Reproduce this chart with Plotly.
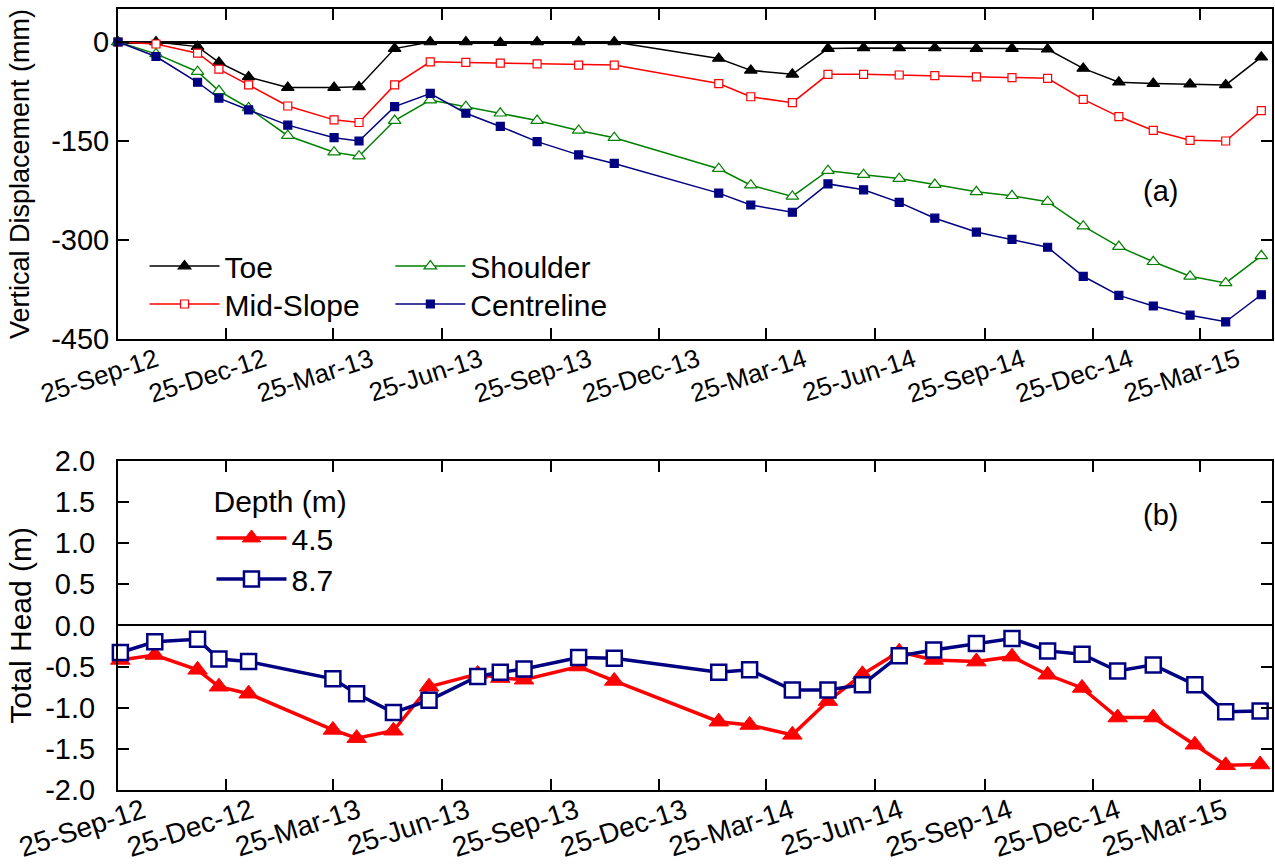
import plotly.graph_objects as go

# ---- settlement survey (top panel) ----
survey_dates = ["2012-09-25", "2012-10-27", "2012-12-01", "2012-12-19", "2013-01-13",
                "2013-02-15", "2013-03-26", "2013-04-16", "2013-05-16", "2013-06-15",
                "2013-07-15", "2013-08-13", "2013-09-13", "2013-10-18", "2013-11-17",
                "2014-02-13", "2014-03-12", "2014-04-16", "2014-05-16", "2014-06-15",
                "2014-07-15", "2014-08-14", "2014-09-18", "2014-10-18", "2014-11-17",
                "2014-12-17", "2015-01-16", "2015-02-14", "2015-03-17", "2015-04-16",
                "2015-05-16"]
toe = [0, 0, -7, -31, -53, -69, -69, -68, -10, 0, 0, -1, 0, 0, 0, -25, -43, -49,
       -10, -9, -9, -9, -10, -10, -11, -40, -61, -63, -64, -65, -23]
mid_slope = [0, -3, -17, -41, -65, -97, -118, -122, -65, -30, -31, -32, -33, -35, -35,
             -63, -83, -92, -49, -49, -50, -51, -53, -54, -55, -87, -113, -134, -149,
             -150, -104]
shoulder = [0, -18, -45, -74, -100, -142, -167, -173, -119, -88, -98, -108, -119,
            -134, -145, -192, -217, -234, -195, -201, -207, -216, -227, -233, -242,
            -279, -310, -333, -355, -365, -324]
centreline = [0, -22, -61, -85, -103, -126, -145, -150, -98, -78, -108, -128, -151,
              -171, -184, -229, -247, -258, -215, -224, -243, -267, -288, -299, -311,
              -355, -384, -400, -414, -424, -383]

# ---- piezometer readings (bottom panel) ----
piezo_dates = ["2012-09-27", "2012-10-26", "2012-12-01", "2012-12-19", "2013-01-13",
               "2013-03-25", "2013-04-14", "2013-05-15", "2013-06-14", "2013-07-25",
               "2013-08-13", "2013-09-02", "2013-10-18", "2013-11-17", "2014-02-13",
               "2014-03-11", "2014-04-16", "2014-05-16", "2014-06-14", "2014-07-15",
               "2014-08-13", "2014-09-18", "2014-10-18", "2014-11-17", "2014-12-16",
               "2015-01-15", "2015-02-14", "2015-03-21", "2015-04-16", "2015-05-15"]
head_4_5 = [-0.42, -0.36, -0.54, -0.745, -0.83, -1.27, -1.37, -1.28, -0.745, -0.59,
            -0.64, -0.66, -0.50, -0.675, -1.17, -1.21, -1.33, -0.92, -0.595, -0.32,
            -0.42, -0.44, -0.38, -0.60, -0.76, -1.12, -1.12, -1.45, -1.70, -1.69]
head_8_7 = [-0.33, -0.20, -0.17, -0.41, -0.44, -0.65, -0.83, -1.06, -0.91, -0.62,
            -0.57, -0.53, -0.39, -0.40, -0.57, -0.54, -0.785, -0.785, -0.72, -0.37,
            -0.30, -0.22, -0.16, -0.31, -0.35, -0.555, -0.48, -0.72, -1.05, -1.04]

# ---- axis ticks ----
tick_dates = ["2012-09-25", "2012-12-25", "2013-03-25", "2013-06-25", "2013-09-25",
              "2013-12-25", "2014-03-25", "2014-06-25", "2014-09-25", "2014-12-25",
              "2015-03-25"]
tick_text = ["25-Sep-12", "25-Dec-12", "25-Mar-13", "25-Jun-13", "25-Sep-13",
             "25-Dec-13", "25-Mar-14", "25-Jun-14", "25-Sep-14", "25-Dec-14",
             "25-Mar-15"]
disp_ticks = [0, -150, -300, -450]
disp_labels = ["0", "-150", "-300", "-450"]
head_ticks = [2.0, 1.5, 1.0, 0.5, 0.0, -0.5, -1.0, -1.5, -2.0]
head_labels = ["2.0", "1.5", "1.0", "0.5", "0.0", "-0.5", "-1.0", "-1.5", "-2.0"]

FONT = "Arial, Liberation Sans, sans-serif"
FS = 29
X_RANGE = ["2012-09-25", "2015-05-25"]


def txt(size=FS):
    return dict(family=FONT, size=size, color="black")


fig = go.Figure()

# name, values, colour, symbol, fill, size, legend id
top_series = [
    ("Toe", toe, "black", "triangle-up", "black", 11, "legend"),
    ("Mid-Slope", mid_slope, "red", "square", "white", 8, "legend2"),
    ("Shoulder", shoulder, "green", "triangle-up", "white", 11, "legend3"),
    ("Centreline", centreline, "#000080", "square", "#000080", 8, "legend4"),
]
for name, vals, col, sym, fill, size, leg in top_series:
    fig.add_trace(go.Scatter(
        x=survey_dates, y=vals, name=name, mode="lines+markers",
        line=dict(color=col, width=1.5),
        marker=dict(symbol=sym, size=size, color=fill, line=dict(color=col, width=1.2)),
        cliponaxis=False, legend=leg, xaxis="x", yaxis="y"))

fig.add_trace(go.Scatter(
    x=piezo_dates, y=head_4_5, name="4.5", mode="lines+markers",
    line=dict(color="#FF0000", width=3.5),
    marker=dict(symbol="triangle-up", size=17, color="#FF0000",
                line=dict(color="#FF0000", width=1)),
    cliponaxis=False, legend="legend5", xaxis="x2", yaxis="y2"))
fig.add_trace(go.Scatter(
    x=piezo_dates, y=head_8_7, name="8.7", mode="lines+markers",
    line=dict(color="#000080", width=3.5),
    marker=dict(symbol="square", size=15, color="white",
                line=dict(color="#000080", width=2.5)),
    cliponaxis=False, legend="legend6", xaxis="x2", yaxis="y2"))

axis_common = dict(showline=True, linecolor="black", linewidth=2, mirror="ticks",
                   ticks="inside", ticklen=11, tickwidth=2, tickcolor="black",
                   showgrid=False, automargin=False, tickfont=txt())

xaxis_common = dict(axis_common, type="date", range=X_RANGE, tickmode="array",
                    tickvals=tick_dates, ticktext=tick_text, tickangle=-18)

legend_common = dict(font=txt(30), bgcolor="rgba(0,0,0,0)", borderwidth=0,
                     itemwidth=70, tracegroupgap=0, xanchor="left",
                     itemclick=False, itemdoubleclick=False)

fig.update_layout(
    width=1275, height=867,
    margin=dict(l=118, r=3, t=9, b=77, autoexpand=False),
    paper_bgcolor="white", plot_bgcolor="white",
    font=txt(),
    xaxis=dict(xaxis_common, domain=[0, 1], anchor="y", tickfont=txt(26),
               ticklabelshift=38, ticklabelstandoff=-6),
    yaxis=dict(axis_common, domain=[0.5775, 1], anchor="x", range=[-450, 50],
               tickmode="array", tickvals=disp_ticks, ticktext=disp_labels,
               ticklabelstandoff=1,
               zeroline=True, zerolinecolor="black", zerolinewidth=2.5,
               title=dict(text="Vertical Displacement (mm)", standoff=14, font=txt(27))),
    xaxis2=dict(xaxis_common, domain=[0, 1], anchor="y2", tickfont=txt(28),
                ticklabelshift=25, ticklabelstandoff=-8),
    yaxis2=dict(axis_common, domain=[0, 0.4216], anchor="x2", range=[-2, 2],
                tickmode="array", tickvals=head_ticks, ticktext=head_labels,
                ticklabelstandoff=15,
                zeroline=True, zerolinecolor="black", zerolinewidth=2,
                title=dict(text="Total Head (m)", standoff=5, font=txt(30))),
    legend=dict(legend_common, x=0.023, y=0.6709, yanchor="middle"),
    legend2=dict(legend_common, x=0.023, y=0.6223, yanchor="middle"),
    legend3=dict(legend_common, x=0.236, y=0.6709, yanchor="middle"),
    legend4=dict(legend_common, x=0.236, y=0.6223, yanchor="middle"),
    legend5=dict(legend_common, x=0.081, y=0.406, yanchor="top",
                 title=dict(text="Depth (m)", font=txt(30))),
    legend6=dict(legend_common, x=0.081, y=0.2702, yanchor="middle"),
    showlegend=True,
    annotations=[
        dict(text="(a)", xref="paper", yref="paper", x=0.903, y=0.767,
             xanchor="center", yanchor="middle", showarrow=False, font=txt()),
        dict(text="(b)", xref="paper", yref="paper", x=0.903, y=0.352,
             xanchor="center", yanchor="middle", showarrow=False, font=txt()),
    ],
)

fig.write_html("out.html")
